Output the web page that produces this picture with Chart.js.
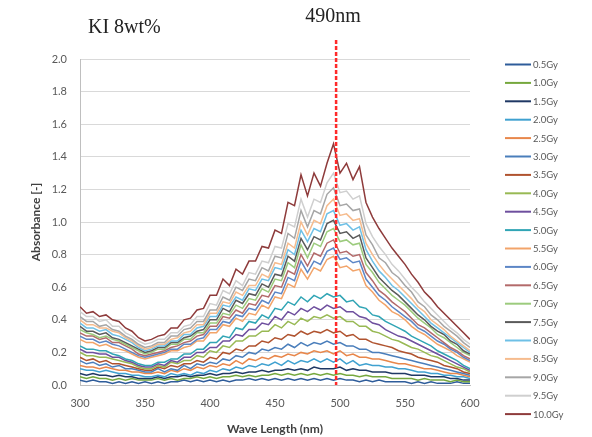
<!DOCTYPE html>
<html>
<head>
<meta charset="utf-8">
<script src="https://cdn.jsdelivr.net/npm/chart.js@4.4.0/dist/chart.umd.min.js"></script>
<style>
  html, body { margin: 0; padding: 0; background: #fff; }
  #wrap { width: 592px; height: 437px; }
</style>
</head>
<body>
<div id="wrap"><canvas id="absChart" width="592" height="437"></canvas></div>
<script>
// wavelength grid (nm)
const wavelengths = [300,305,310,315,320,325,330,335,340,345,350,355,360,365,370,375,380,385,390,395,
  400,405,410,415,420,425,430,435,440,445,450,455,460,465,470,475,480,485,490,495,
  500,505,510,515,520,525,530,535,540,545,550,555,560,565,570,575,580,585,590,595,600];

const doses = ['0.5Gy','1.0Gy','1.5Gy','2.0Gy','2.5Gy','3.0Gy','3.5Gy','4.0Gy','4.5Gy','5.0Gy',
  '5.5Gy','6.0Gy','6.5Gy','7.0Gy','7.5Gy','8.0Gy','8.5Gy','9.0Gy','9.5Gy','10.0Gy'];

const lineColors = ['#2E5C9A','#76A83E','#1F3864','#3FA1D0','#E8874B','#4A7EBB','#B0532F','#98B954','#6E4F9E','#31A5B5',
  '#F2A46A','#5C86C6','#B36A6A','#9CCB7D','#5A5A5A','#6EC0E6','#F6BC8E','#A6A6A6','#CFCFCF','#8E3B3B'];

// absorbance, one array per dose
const abs05 = [0.03,0.02,0.03,0.02,0.02,0.01,0.02,0.01,0.02,0.01,0.02,
  0.01,0.02,0.01,0.02,0.02,0.03,0.02,0.03,0.02,0.03,0.02,0.03,0.02,0.03,0.03,0.04,0.03,0.04,0.03,0.04,0.03,0.04,0.03,0.04,0.03,0.04,0.03,0.04,
  0.03,0.04,0.03,0.03,0.02,0.03,0.02,0.03,0.02,0.02,0.02,0.02,0.01,0.02,0.01,0.02,0.01,0.01,0.01,0.02,0.01,0.01];
const abs10 = [0.05,0.04,0.05,0.04,0.04,0.03,0.04,0.03,0.04,0.03,0.03,
  0.03,0.04,0.03,0.04,0.03,0.04,0.04,0.05,0.04,0.05,0.04,0.05,0.05,0.06,0.05,0.06,0.05,0.06,0.06,0.07,0.06,0.07,0.06,0.07,0.06,0.07,0.06,0.07,
  0.06,0.07,0.06,0.06,0.05,0.06,0.05,0.05,0.05,0.04,0.04,0.04,0.04,0.03,0.04,0.03,0.03,0.03,0.02,0.03,0.02,0.02];
const abs15 = [0.07,0.06,0.07,0.06,0.06,0.05,0.06,0.05,0.05,0.04,0.04,
  0.04,0.05,0.04,0.05,0.05,0.06,0.05,0.06,0.06,0.07,0.06,0.07,0.07,0.08,0.07,0.08,0.08,0.09,0.08,0.09,0.09,0.10,0.09,0.10,0.09,0.11,0.10,0.10,
  0.10,0.11,0.09,0.10,0.09,0.09,0.08,0.08,0.08,0.07,0.07,0.07,0.06,0.06,0.06,0.05,0.05,0.05,0.04,0.04,0.03,0.03];
const abs20 = [0.10,0.09,0.09,0.08,0.09,0.08,0.07,0.07,0.06,0.06,0.05,
  0.05,0.06,0.05,0.07,0.06,0.07,0.06,0.08,0.07,0.09,0.08,0.10,0.09,0.11,0.10,0.12,0.11,0.13,0.12,0.14,0.12,0.15,0.13,0.15,0.14,0.16,0.14,0.16,
  0.14,0.16,0.13,0.15,0.12,0.13,0.12,0.12,0.11,0.11,0.10,0.10,0.09,0.08,0.08,0.07,0.07,0.06,0.06,0.05,0.05,0.04];
const abs25 = [0.12,0.11,0.11,0.10,0.11,0.10,0.09,0.09,0.08,0.08,0.07,
  0.07,0.08,0.07,0.09,0.08,0.10,0.09,0.11,0.10,0.12,0.11,0.13,0.12,0.15,0.13,0.16,0.15,0.17,0.16,0.18,0.17,0.19,0.18,0.20,0.19,0.21,0.20,0.21,
  0.19,0.21,0.18,0.19,0.17,0.17,0.16,0.16,0.15,0.14,0.13,0.13,0.12,0.11,0.10,0.10,0.09,0.08,0.07,0.07,0.06,0.05];
const abs30 = [0.15,0.13,0.14,0.12,0.13,0.11,0.12,0.10,0.10,0.09,0.08,
  0.08,0.10,0.08,0.10,0.09,0.12,0.10,0.13,0.12,0.14,0.13,0.16,0.15,0.18,0.17,0.20,0.19,0.22,0.21,0.23,0.22,0.25,0.23,0.26,0.24,0.26,0.25,0.27,
  0.25,0.26,0.24,0.24,0.22,0.22,0.20,0.20,0.19,0.18,0.17,0.16,0.15,0.14,0.13,0.12,0.11,0.10,0.09,0.08,0.07,0.06];
const abs35 = [0.17,0.15,0.16,0.14,0.15,0.13,0.13,0.12,0.11,0.10,0.09,
  0.09,0.11,0.10,0.12,0.11,0.13,0.13,0.15,0.14,0.17,0.16,0.20,0.19,0.22,0.21,0.24,0.24,0.27,0.26,0.29,0.28,0.31,0.30,0.33,0.31,0.33,0.32,0.34,
  0.32,0.33,0.30,0.31,0.28,0.28,0.26,0.25,0.24,0.23,0.21,0.20,0.19,0.17,0.16,0.15,0.14,0.12,0.11,0.10,0.08,0.07];
const abs40 = [0.20,0.18,0.18,0.17,0.17,0.16,0.15,0.14,0.13,0.11,0.10,
  0.10,0.12,0.11,0.14,0.13,0.15,0.15,0.18,0.17,0.21,0.20,0.24,0.23,0.27,0.27,0.30,0.30,0.33,0.33,0.37,0.35,0.39,0.37,0.41,0.39,0.42,0.41,0.43,
  0.41,0.42,0.39,0.39,0.36,0.36,0.33,0.32,0.30,0.28,0.27,0.25,0.23,0.22,0.20,0.18,0.17,0.15,0.13,0.11,0.10,0.08];
const abs45 = [0.22,0.20,0.20,0.19,0.19,0.17,0.17,0.15,0.14,0.12,0.11,
  0.11,0.13,0.12,0.15,0.14,0.17,0.17,0.20,0.20,0.23,0.23,0.27,0.27,0.31,0.30,0.34,0.34,0.38,0.37,0.42,0.40,0.45,0.43,0.47,0.45,0.48,0.46,0.49,
  0.47,0.48,0.45,0.45,0.42,0.41,0.38,0.37,0.34,0.32,0.30,0.29,0.27,0.25,0.23,0.21,0.19,0.17,0.15,0.13,0.11,0.09];
const abs50 = [0.24,0.22,0.22,0.21,0.21,0.19,0.18,0.16,0.15,0.13,0.12,
  0.12,0.14,0.14,0.16,0.16,0.19,0.19,0.22,0.22,0.26,0.26,0.30,0.29,0.35,0.34,0.39,0.38,0.43,0.41,0.47,0.46,0.51,0.49,0.54,0.51,0.55,0.53,0.56,
  0.54,0.55,0.51,0.52,0.48,0.47,0.43,0.42,0.39,0.37,0.35,0.33,0.30,0.28,0.26,0.24,0.21,0.19,0.17,0.15,0.12,0.10];
const abs55 = [0.28,0.26,0.26,0.24,0.25,0.23,0.22,0.21,0.19,0.17,0.16,
  0.17,0.18,0.19,0.21,0.21,0.23,0.24,0.27,0.27,0.32,0.32,0.37,0.36,0.41,0.39,0.44,0.43,0.49,0.47,0.54,0.53,0.62,0.60,0.71,0.65,0.72,0.70,0.77,
  0.79,0.72,0.73,0.70,0.71,0.61,0.57,0.52,0.49,0.45,0.43,0.40,0.36,0.33,0.31,0.28,0.25,0.23,0.21,0.18,0.16,0.14];
const abs60 = [0.30,0.28,0.28,0.26,0.27,0.25,0.24,0.22,0.20,0.18,0.17,
  0.18,0.19,0.20,0.22,0.22,0.25,0.25,0.28,0.29,0.34,0.34,0.39,0.38,0.43,0.42,0.47,0.46,0.52,0.50,0.57,0.56,0.66,0.64,0.76,0.69,0.76,0.74,0.82,
  0.84,0.77,0.78,0.75,0.76,0.65,0.60,0.55,0.52,0.48,0.45,0.42,0.39,0.35,0.33,0.30,0.27,0.25,0.22,0.20,0.17,0.15];
const abs65 = [0.32,0.30,0.30,0.28,0.29,0.26,0.26,0.24,0.22,0.19,0.18,
  0.19,0.20,0.21,0.23,0.24,0.26,0.27,0.30,0.31,0.36,0.36,0.42,0.41,0.46,0.44,0.50,0.49,0.55,0.54,0.61,0.60,0.70,0.68,0.80,0.73,0.81,0.79,0.87,
  0.89,0.81,0.82,0.79,0.80,0.69,0.64,0.58,0.55,0.51,0.48,0.45,0.41,0.37,0.35,0.32,0.29,0.26,0.23,0.21,0.18,0.16];
const abs70 = [0.34,0.32,0.31,0.29,0.30,0.28,0.27,0.25,0.23,0.21,0.19,
  0.20,0.22,0.22,0.25,0.25,0.28,0.28,0.32,0.32,0.38,0.38,0.44,0.43,0.49,0.47,0.53,0.52,0.59,0.57,0.65,0.64,0.75,0.72,0.86,0.78,0.87,0.85,0.94,
  0.96,0.88,0.89,0.86,0.87,0.74,0.69,0.63,0.59,0.55,0.52,0.49,0.45,0.41,0.38,0.35,0.31,0.29,0.26,0.23,0.20,0.18];
const abs75 = [0.36,0.33,0.33,0.31,0.32,0.29,0.28,0.26,0.24,0.22,0.20,
  0.21,0.23,0.23,0.26,0.26,0.29,0.30,0.33,0.34,0.40,0.40,0.47,0.45,0.52,0.50,0.56,0.55,0.62,0.60,0.68,0.67,0.79,0.76,0.90,0.83,0.91,0.89,0.99,
  1.01,0.93,0.94,0.90,0.92,0.78,0.72,0.66,0.62,0.58,0.55,0.51,0.47,0.43,0.40,0.36,0.33,0.31,0.27,0.25,0.21,0.19];
const abs80 = [0.38,0.35,0.35,0.33,0.34,0.31,0.30,0.28,0.26,0.23,0.21,
  0.22,0.24,0.24,0.27,0.27,0.31,0.31,0.35,0.36,0.42,0.42,0.49,0.48,0.54,0.52,0.59,0.58,0.65,0.64,0.72,0.71,0.83,0.80,0.95,0.88,0.96,0.94,1.05,
  1.07,0.98,0.99,0.95,0.97,0.83,0.76,0.70,0.66,0.61,0.58,0.54,0.50,0.46,0.42,0.38,0.35,0.32,0.29,0.26,0.23,0.20];
const abs85 = [0.40,0.37,0.37,0.35,0.35,0.33,0.32,0.29,0.27,0.24,0.22,
  0.23,0.25,0.25,0.28,0.29,0.32,0.33,0.37,0.37,0.44,0.44,0.51,0.50,0.57,0.55,0.61,0.61,0.68,0.66,0.75,0.74,0.87,0.84,1.00,0.92,1.01,0.99,1.10,
  1.14,1.04,1.05,1.01,1.02,0.87,0.80,0.74,0.69,0.65,0.61,0.57,0.53,0.48,0.45,0.40,0.37,0.34,0.30,0.27,0.24,0.21];
const abs90 = [0.42,0.39,0.39,0.36,0.37,0.34,0.33,0.30,0.28,0.25,0.23,
  0.24,0.26,0.26,0.30,0.30,0.34,0.35,0.39,0.39,0.46,0.46,0.54,0.52,0.60,0.58,0.65,0.64,0.72,0.70,0.79,0.78,0.93,0.90,1.07,0.97,1.07,1.05,1.17,
  1.21,1.10,1.11,1.07,1.08,0.92,0.86,0.78,0.75,0.69,0.66,0.61,0.57,0.51,0.48,0.43,0.40,0.36,0.33,0.30,0.26,0.23];
const abs95 = [0.45,0.42,0.42,0.39,0.40,0.36,0.36,0.32,0.30,0.27,0.25,
  0.26,0.28,0.28,0.32,0.32,0.36,0.37,0.42,0.42,0.50,0.49,0.58,0.56,0.64,0.61,0.69,0.68,0.76,0.75,0.85,0.84,0.99,0.97,1.14,1.03,1.14,1.12,1.24,
  1.30,1.18,1.19,1.14,1.16,0.99,0.91,0.85,0.80,0.74,0.70,0.65,0.60,0.56,0.51,0.47,0.43,0.39,0.35,0.32,0.28,0.25];
const abs100 = [0.48,0.44,0.45,0.42,0.43,0.40,0.39,0.35,0.33,0.29,0.27,
  0.28,0.30,0.31,0.35,0.35,0.40,0.41,0.46,0.47,0.55,0.55,0.65,0.61,0.71,0.68,0.76,0.76,0.85,0.84,0.95,0.93,1.12,1.10,1.29,1.16,1.30,1.22,1.36,
  1.48,1.30,1.36,1.26,1.34,1.12,1.03,0.96,0.90,0.84,0.79,0.74,0.68,0.63,0.57,0.53,0.48,0.44,0.40,0.36,0.32,0.28];

const seriesValues = [abs05, abs10, abs15, abs20, abs25, abs30, abs35, abs40, abs45, abs50,
  abs55, abs60, abs65, abs70, abs75, abs80, abs85, abs90, abs95, abs100];

const yTicks = [0, 0.2, 0.4, 0.6, 0.8, 1.0, 1.2, 1.4, 1.6, 1.8, 2.0];
const xTicks = [300, 350, 400, 450, 500, 550, 600];
const markerWave = 497;      // where the dashed line sits in the picture
const markerLabel = '490nm';
const chartTitle = 'KI 8wt%';

// dashed marker line, titles and the legend column on the right
const extrasPlugin = {
    id: 'extras',
    afterDatasetsDraw(chart) {
        const { ctx, chartArea, scales } = chart;
        const px = scales.x.getPixelForValue(markerWave);
        ctx.save();
        ctx.strokeStyle = '#FF2A2A';
        ctx.lineWidth = 2.5;
        ctx.setLineDash([4, 2]);
        ctx.beginPath();
        ctx.moveTo(px, 40);
        ctx.lineTo(px, chartArea.bottom);
        ctx.stroke();
        ctx.restore();
    },
    afterDraw(chart) {
        const { ctx, scales } = chart;
        const px = scales.x.getPixelForValue(markerWave);
        ctx.save();
        ctx.fillStyle = '#222';
        ctx.font = '20px "Liberation Serif", serif';
        ctx.textBaseline = 'alphabetic';
        ctx.textAlign = 'left';
        ctx.fillText(chartTitle, 88, 33);
        ctx.textAlign = 'center';
        ctx.fillText(markerLabel, px - 3, 22);

        // legend
        ctx.font = '9.5px Lato, sans-serif';
        ctx.textBaseline = 'middle';
        ctx.textAlign = 'left';
        chart.data.datasets.forEach((ds, i) => {
            const y = 64.5 + i * 18.4;
            ctx.strokeStyle = ds.borderColor;
            ctx.lineWidth = 2;
            ctx.beginPath();
            ctx.moveTo(505, y);
            ctx.lineTo(531, y);
            ctx.stroke();
            ctx.fillStyle = '#595959';
            ctx.fillText(ds.label, 533, y + 0.5);
        });
        ctx.restore();
    }
};

document.addEventListener('DOMContentLoaded', () => {
    const ctx = document.getElementById('absChart').getContext('2d');
    Chart.defaults.font.family = "Lato, 'Liberation Sans', sans-serif";
    Chart.defaults.color = '#595959';

    const datasets = seriesValues.map((vals, i) => ({
        label: doses[i],
        data: vals.map((v, j) => ({ x: wavelengths[j], y: v })),
        borderColor: lineColors[i],
        backgroundColor: lineColors[i],
        borderWidth: 1.5,
        pointRadius: 0,
        tension: 0,
        order: seriesValues.length - i
    }));

    new Chart(ctx, {
        type: 'line',
        data: { datasets },
        options: {
            responsive: false,
            animation: false,
            layout: { padding: { left: 25, right: 122, top: 59, bottom: 0 } },
            plugins: {
                legend: { display: false },
                tooltip: { enabled: false }
            },
            scales: {
                x: {
                    type: 'linear',
                    min: 300,
                    max: 600,
                    afterBuildTicks: (scale) => { scale.ticks = xTicks.map(v => ({ value: v })); },
                    afterFit: (scale) => { scale.height = 52; },
                    grid: { display: false, drawTicks: false },
                    border: { display: true, color: '#BFBFBF', width: 1 },
                    ticks: { padding: 12, font: { size: 11 }, color: '#595959' },
                    title: {
                        display: true,
                        text: 'Wave Length (nm)',
                        font: { size: 12, weight: 'bold' },
                        color: '#404040',
                        padding: { top: 0, bottom: 1 }
                    }
                },
                y: {
                    min: 0,
                    max: 2.0,
                    afterBuildTicks: (scale) => { scale.ticks = yTicks.map(v => ({ value: v })); },
                    afterFit: (scale) => { scale.width = 55; },
                    grid: { color: '#D9D9D9', lineWidth: 1, drawTicks: false },
                    border: { display: true, color: '#BFBFBF', width: 1 },
                    ticks: {
                        padding: 13,
                        font: { size: 11 },
                        color: '#595959',
                        callback: (v) => Number(v).toFixed(1)
                    },
                    title: {
                        display: true,
                        text: 'Absorbance [-]',
                        font: { size: 12, weight: 'bold' },
                        color: '#404040',
                        padding: { top: 4, bottom: 0 }
                    }
                }
            }
        },
        plugins: [extrasPlugin]
    });
});
</script>
</body>
</html>
